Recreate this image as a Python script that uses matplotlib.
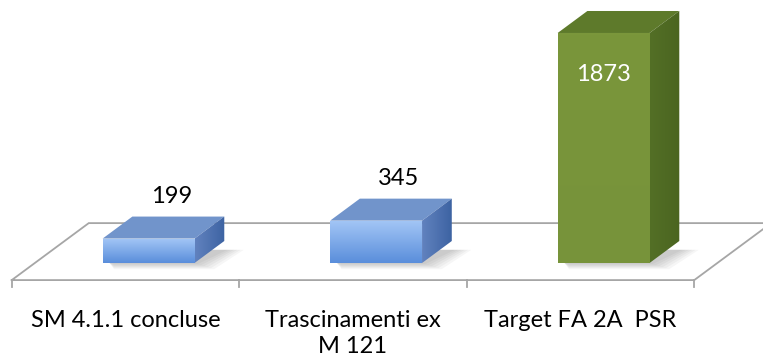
import numpy as np
import matplotlib.pyplot as plt
from matplotlib.patches import Polygon
from matplotlib.colors import LinearSegmentedColormap

# ---- data ----
categories = ["SM 4.1.1 concluse", "Trascinamenti ex\nM 121", "Target FA 2A  PSR"]
values = [199, 345, 1873]
series_style = ["blue", "blue", "green"]

# ---- styling ----
FONT = ["Lato", "DejaVu Sans"]
PALETTE = {
    "blue": dict(front=("#a3c6f6", "#5a8edb"), top="#7194cb", side=("#6182bf", "#3d63a2")),
    "green": dict(front=("#7a963b", "#77933a"), top="#5e7a2b", side=("#536f26", "#4b6520")),
}
FLOOR_COLOR = "#a6a6a6"

# floor depth projection (in category / value units)
DX, DY = 0.3385, 464.0
BAR_FRONT, BAR_BACK = 0.30, 0.686      # bar position inside floor depth
BAR_W = 0.404
FLOOR_Y = -BAR_FRONT * DY

fig = plt.figure(figsize=(7.63, 3.58), dpi=100)
ax = fig.add_axes([0, 0, 1, 1])
ax.set_axis_off()
XLIM = (-0.5516, 2.8022)
YLIM = (-773.6, 2141.6)

n = len(values)

# ---- floor ----
fl = -0.5, n - 0.5
floor = [(fl[0], FLOOR_Y), (fl[1], FLOOR_Y), (fl[1] + DX, FLOOR_Y + DY),
         (fl[0] + DX, FLOOR_Y + DY), (fl[0], FLOOR_Y)]
fx, fy = zip(*floor)
ax.plot(fx, fy, color=FLOOR_COLOR, lw=1.3, zorder=1, solid_joinstyle="miter")
for b in np.arange(n + 1) - 0.5:
    ax.plot([b, b], [FLOOR_Y, FLOOR_Y - 60], color=FLOOR_COLOR, lw=1.3, zorder=1)


def gradient_poly(verts, c0, c1, vertical=True, z=3):
    # fill a polygon with a linear gradient from c0 (top / left) to c1 (bottom / right)
    poly = Polygon(verts, closed=True, facecolor="none", edgecolor="none", zorder=z)
    ax.add_patch(poly)
    xs, ys = zip(*verts)
    cmap = LinearSegmentedColormap.from_list("g", [c0, c1])
    if vertical:
        grad = np.linspace(1, 0, 64).reshape(-1, 1)
    else:
        grad = np.linspace(0, 1, 64).reshape(1, -1)
    im = ax.imshow(grad, cmap=cmap, vmin=0, vmax=1,
                   extent=[min(xs), max(xs), min(ys), max(ys)],
                   aspect="auto", origin="lower", zorder=z, interpolation="bilinear")
    im.set_clip_path(poly)


bdx = (BAR_BACK - BAR_FRONT) * DX
bdy = (BAR_BACK - BAR_FRONT) * DY

for i, (v, s) in enumerate(zip(values, series_style)):
    pal = PALETTE[s]
    x0 = i - BAR_W / 2 + BAR_FRONT * DX
    x1 = x0 + BAR_W

    # soft shadow on the floor, spreading to the lower right
    for k in range(6):
        g = 0.012 * (6 - k)
        sh = [(x0 + 0.03, 0), (x0 + 0.05, -g * 700), (x1 + g * 1.2, -g * 700),
              (x1 + bdx + g * 1.2, bdy * 0.6), (x1, bdy * 0.6)]
        ax.add_patch(Polygon(sh, closed=True, facecolor="#000000", alpha=0.035,
                             edgecolor="none", zorder=2))

    front = [(x0, 0), (x1, 0), (x1, v), (x0, v)]
    top = [(x0, v), (x1, v), (x1 + bdx, v + bdy), (x0 + bdx, v + bdy)]
    side = [(x1, 0), (x1 + bdx, bdy), (x1 + bdx, v + bdy), (x1, v)]

    gradient_poly(front, pal["front"][0], pal["front"][1], vertical=True, z=4)
    ax.add_patch(Polygon(top, closed=True, facecolor=pal["top"], edgecolor="none", zorder=4))
    gradient_poly(side, pal["side"][0], pal["side"][1], vertical=False, z=4)

    cx = (x0 + x1) / 2
    if v > 1000:
        ax.text(cx, v - 340, str(v), ha="center", va="center", color="white",
                fontsize=17, family=FONT, zorder=6)
    else:
        ax.text(cx + 0.1, v + 340, str(v), ha="center", va="center", color="black",
                fontsize=17, family=FONT, zorder=6)

# ---- category labels ----
for i, c in enumerate(categories):
    ax.text(i, FLOOR_Y - 240, c, ha="center", va="top", fontsize=17, family=FONT,
            color="black", linespacing=1.3, zorder=6)

ax.set_xlim(*XLIM)
ax.set_ylim(*YLIM)

fig.savefig("out.png", dpi=100, facecolor="white")
